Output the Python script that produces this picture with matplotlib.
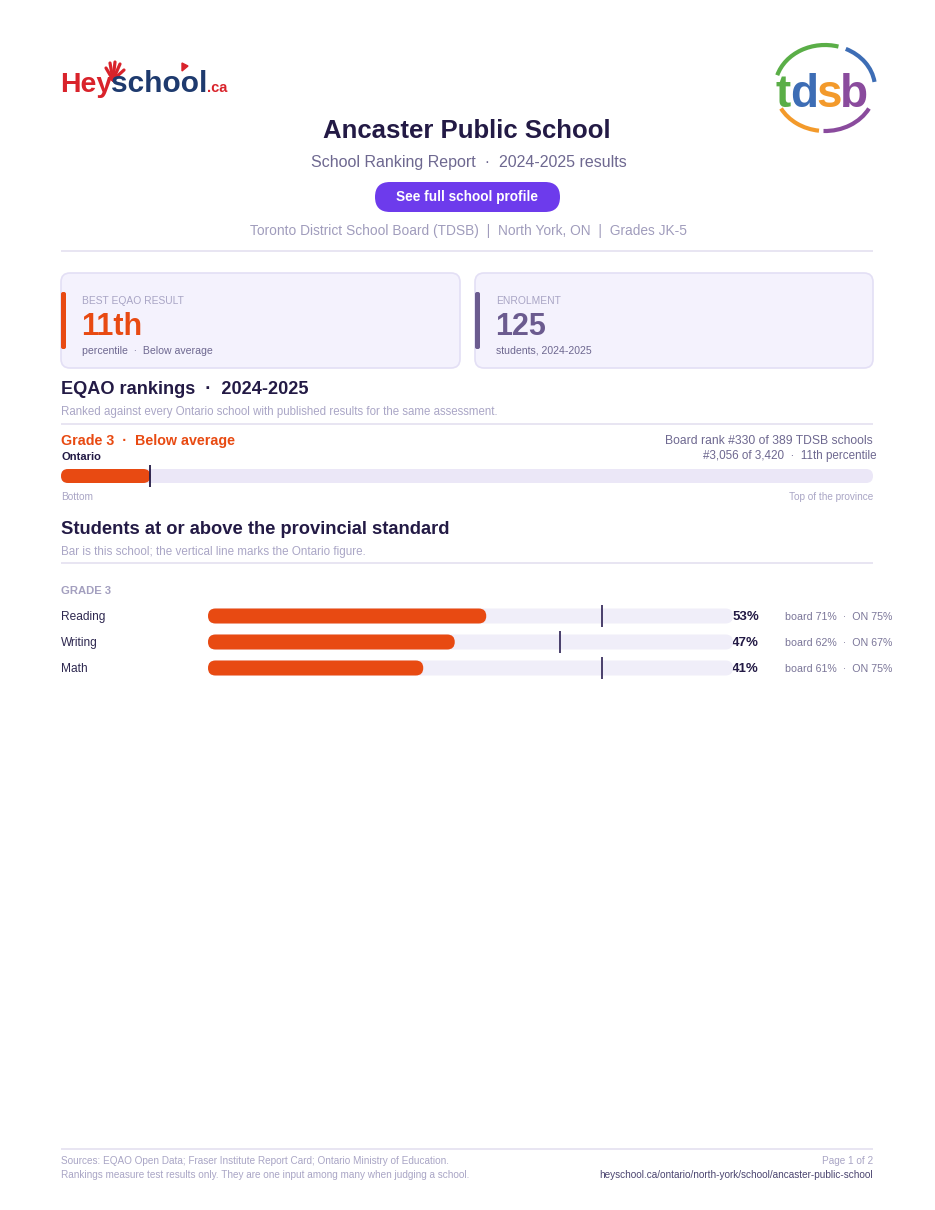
import matplotlib
matplotlib.use("Agg")
import matplotlib.pyplot as plt
import matplotlib.transforms as mtrans
from matplotlib.patches import FancyBboxPatch, Arc, Polygon

plt.rcParams['font.family'] = ['Liberation Sans', 'DejaVu Sans']

# Datos del informe
escuela = "Ancaster Public School"
subtitulo = "School Ranking Report  \u00b7  2024-2025 results"
info_escuela = "Toronto District School Board (TDSB)  |  North York, ON  |  Grades JK-5"
mejor_percentil = 11
estado = "Below average"
inscripcion = 125
rank_junta = (330, 389)
rank_prov = (3056, 3420)
materias = ["Reading", "Writing", "Math"]
valores_escuela = [53, 47, 41]
valores_junta = [71, 62, 61]
valores_ontario = [75, 67, 75]

# Colores
OSCURO = '#231a45'
NARANJA = '#e84a12'
MORADO = '#6d3bec'
GRIS = '#6e6890'
GRIS_CLARO = '#a9a5c5'
LINEA = '#e4e0f0'

W, H = 935, 1210
fig = plt.figure(figsize=(W / 100, H / 100), dpi=100)
page = fig.add_axes([0, 0, 1, 1])
page.set_xlim(0, W)
page.set_ylim(H, 0)
page.axis('off')


def px_axes(x0, y0, x1, y1):
    ax = fig.add_axes([x0 / W, 1 - y1 / H, (x1 - x0) / W, (y1 - y0) / H])
    ax.axis('off')
    return ax


# Rectangulo redondeado con radio en pixeles
def caja(ax, x, y, w, h, r_px, **kw):
    pos = ax.get_position()
    x0, x1 = ax.get_xlim()
    y0, y1 = ax.get_ylim()
    sx = pos.width * W / abs(x1 - x0)
    sy = pos.height * H / abs(y1 - y0)
    p = FancyBboxPatch((x, y), w, h, boxstyle=f"round,pad=0,rounding_size={r_px / sx}",
                       mutation_aspect=sx / sy, **kw)
    ax.add_patch(p)
    return p


def hline(y, x0=61, x1=873):
    page.plot([x0, x1], [y, y], color=LINEA, lw=1.2, solid_capstyle='butt')


renderer = fig.canvas.get_renderer()


def texto_en_cadena(x, y, partes, gap=0):
    for s, color, size in partes:
        t = page.text(x, y, s, color=color, fontsize=size, fontweight='bold',
                      va='baseline', ha='left')
        bb = t.get_window_extent(renderer)
        x = page.transData.inverted().transform((bb.x1, bb.y0))[0] + gap
    return x


# Logo Heyschool
texto_en_cadena(60, 92, [("Hey", '#d9232b', 20.5), ("school", '#1e3a6e', 21.5), (".ca", '#d9232b', 10.5)], gap=-1)
for fx, fy in [(106, 68), (110, 63), (115, 62), (120, 64), (124, 70)]:
    page.plot([113, fx], [80, fy], color='#d9232b', lw=2.3, solid_capstyle='round')
page.add_patch(Polygon([[182, 63], [182, 71], [188, 66]], closed=True, color='#d9232b'))

# Logo tdsb
cx, cy = 825, 88
for a1, a2, col in [(72, 165, '#5aae47'), (7, 62, '#3d6db5'), (268, 335, '#8a4b9d'), (205, 262, '#f39a2b')]:
    page.add_patch(Arc((cx, cy), 100, 86, theta1=-a2, theta2=-a1, color=col, lw=3))
x = 776
for letra, col in zip("tdsb", ['#5aae47', '#3d6db5', '#f39a2b', '#8a4b9d']):
    t = page.text(x, 107, letra, color=col, fontsize=33, fontweight='bold', va='baseline', ha='left')
    bb = t.get_window_extent(renderer)
    x = page.transData.inverted().transform((bb.x1, bb.y0))[0] - 1.5

# Cabecera
page.text(467, 131, escuela, ha='center', va='center', fontsize=18.5, fontweight='bold', color=OSCURO)
page.text(469, 162, subtitulo, ha='center', va='center', fontsize=11.5, color=GRIS)
caja(page, 375, 182, 185, 30, 15, facecolor=MORADO, edgecolor='none')
page.text(467.5, 197.5, "See full school profile", ha='center', va='center', fontsize=9.8,
          fontweight='bold', color='white')
page.text(468, 231, info_escuela, ha='center', va='center', fontsize=9.9, color='#a09cbc')
hline(251)

# Tarjetas
for x0, x1, acento, etiqueta, valor, col_valor, pie in [
        (61, 460, NARANJA, "BEST EQAO RESULT", f"{mejor_percentil}th", NARANJA,
         f"percentile  \u00b7  {estado}"),
        (475, 873, '#6b5b8f', "ENROLMENT", f"{inscripcion}", '#6b5b8f', "students, 2024-2025")]:
    caja(page, x0, 273, x1 - x0, 95, 9, facecolor='#f4f2fd', edgecolor='#e3dff5', lw=1.2)
    caja(page, x0, 292, 5, 57, 2, facecolor=acento, edgecolor='none')
    page.text(x0 + 21, 300.5, etiqueta, va='center', fontsize=7.4, color=GRIS_CLARO)
    page.text(x0 + 20, 327, valor, va='center', fontsize=22, fontweight='bold', color=col_valor)
    page.text(x0 + 21, 350.5, pie, va='center', fontsize=7.6, color=GRIS)

# Rankings EQAO
page.text(61, 390, "EQAO rankings  \u00b7  2024-2025", va='center', fontsize=13.1, fontweight='bold', color=OSCURO)
page.text(61, 412.5, "Ranked against every Ontario school with published results for the same assessment.",
          va='center', fontsize=8.3, color='#aaa6c6')
hline(424)
page.text(61, 440.5, f"Grade 3  \u00b7  {estado}", va='center', fontsize=10.3, fontweight='bold', color=NARANJA)
page.text(61, 456.5, "Ontario", va='center', fontsize=8, fontweight='bold', color=OSCURO)
page.text(873, 440.5, f"Board rank #{rank_junta[0]} of {rank_junta[1]} TDSB schools", ha='right',
          va='center', fontsize=8.7, color=GRIS)
page.text(877, 456.5, f"#{rank_prov[0]:,} of {rank_prov[1]:,}  \u00b7  {mejor_percentil}th percentile",
          ha='right', va='center', fontsize=8.4, color=GRIS)

ax_rank = px_axes(61, 462, 873, 490)
ax_rank.set_xlim(0, 100)
ax_rank.set_ylim(-14, 14)
caja(ax_rank, 0, -7, 100, 14, 7, facecolor='#ebe7f7', edgecolor='none')
caja(ax_rank, 0, -7, mejor_percentil, 14, 7, facecolor=NARANJA, edgecolor='none')
ax_rank.vlines(mejor_percentil, -11, 11, color=OSCURO, lw=1.3)
page.text(61, 496.5, "Bottom", va='center', fontsize=7.3, color=GRIS_CLARO)
page.text(873, 496.5, "Top of the province", ha='right', va='center', fontsize=7.2, color=GRIS_CLARO)

# Estudiantes en o sobre el estandar
page.text(61, 529, "Students at or above the provincial standard", va='center', fontsize=13.25,
          fontweight='bold', color=OSCURO)
page.text(61, 551.5, "Bar is this school; the vertical line marks the Ontario figure.", va='center',
          fontsize=8.35, color='#aaa6c6')
hline(563)
page.text(61, 591.5, "GRADE 3", va='center', fontsize=8.1, fontweight='bold', color='#a39fbf')

ax_bar = px_axes(208, 603, 733, 681)
ax_bar.set_xlim(0, 100)
ax_bar.set_ylim(len(materias) - 0.5, -0.5)
alto = 15 / 26
for i, (esc, ont) in enumerate(zip(valores_escuela, valores_ontario)):
    caja(ax_bar, 0, i - alto / 2, 100, alto, 7.5, facecolor='#f0eef9', edgecolor='none')
    caja(ax_bar, 0, i - alto / 2, esc, alto, 7.5, facecolor=NARANJA, edgecolor='none')
ax_bar.vlines(valores_ontario, [i - 0.44 for i in range(len(materias))],
              [i + 0.44 for i in range(len(materias))], color='#3b3060', lw=1.3)

tr = mtrans.blended_transform_factory(page.transData, ax_bar.transData)
for i, (m, esc, jun, ont) in enumerate(zip(materias, valores_escuela, valores_junta, valores_ontario)):
    page.text(61, i + 0.03, m, transform=tr, va='center', fontsize=8.6, color='#2e2850')
    page.text(759, i + 0.03, f"{esc}%", transform=tr, ha='right', va='center', fontsize=9.5,
              fontweight='bold', color=OSCURO)
    page.text(785, i + 0.03, f"board {jun}%  \u00b7  ON {ont}%", transform=tr, va='center', fontsize=7.7,
              color='#7b7699')

# Pie de pagina
hline(1149)
page.text(61, 1161.5, "Sources: EQAO Open Data; Fraser Institute Report Card; Ontario Ministry of Education.",
          va='center', fontsize=7.2, color=GRIS_CLARO)
page.text(61, 1175.5, "Rankings measure test results only. They are one input among many when judging a school.",
          va='center', fontsize=7.2, color=GRIS_CLARO)
page.text(873, 1161.5, "Page 1 of 2", ha='right', va='center', fontsize=7.2, color=GRIS_CLARO)
page.text(873, 1175.5, "heyschool.ca/ontario/north-york/school/ancaster-public-school", ha='right',
          va='center', fontsize=7.2, color='#4b4570')

fig.savefig("out.png", dpi=100)
